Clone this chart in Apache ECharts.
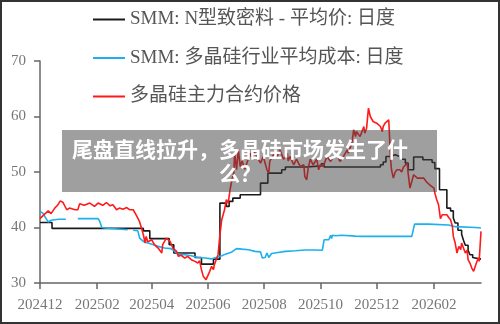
<!DOCTYPE html>
<html><head><meta charset="utf-8">
<script src="https://cdn.jsdelivr.net/npm/echarts@6/dist/echarts.min.js"></script>
<style>html,body{margin:0;padding:0;background:#fff}#c{width:500px;height:324px}</style>
</head><body><div id="c"></div>
<script>
var seriesNames = ['SMM: N型致密料 - 平均价: 日度', 'SMM: 多晶硅行业平均成本: 日度', '多晶硅主力合约价格'];
var tickLabels = ['202412','202502','202504','202506','202508','202510','202512','202602'];
var yTicks = [30, 40, 50, 60, 70];
var xRange = ['2024-12-01', '2026-03-24'];
var bannerTitle = '尾盘直线拉升，多晶硅市场发生了什\n么？';

// SMM: N型致密料 - 平均价 (step changes)
var nTypePrice = [
['2024-12-01',40.9],['2024-12-14',39.85],['2025-03-23',39.4],['2025-03-30',38.0],['2025-04-20',36.9],
['2025-04-25',35.4],['2025-05-18',34.6],['2025-05-25',33.4],['2025-06-07',34.3],['2025-06-14',44.4],
['2025-06-21',43.8],['2025-06-24',44.7],['2025-06-28',45.3],['2025-07-06',45.9],['2025-07-28',48.0],
['2025-08-05',49.8],['2025-08-20',50.4],['2025-08-24',50.9],['2025-09-16',51.1],['2025-10-02',51.5],
['2025-10-05',50.9],['2025-12-05',51.3],['2025-12-08',51.8],['2025-12-11',52.8],['2025-12-15',53.1],
['2025-12-21',52.8],['2025-12-26',52.3],['2026-01-01',51.6],['2026-01-04',50.4],['2026-01-10',52.7],
['2026-01-20',52.2],['2026-01-30',51.7],['2026-02-02',50.6],['2026-02-07',46.8],['2026-02-15',43.5],
['2026-02-19',43.0],['2026-02-22',41.7],['2026-02-24',40.8],['2026-02-27',39.5],['2026-03-03',38.8],
['2026-03-05',37.7],['2026-03-07',36.8],['2026-03-10',35.9],['2026-03-12',35.1],['2026-03-15',34.6],
['2026-03-17',34.3],['2026-03-24',34.3]
];

// SMM: 多晶硅行业平均成本 (null = missing)
var avgCost = [
['2024-12-01',42.9],['2024-12-04',42.6],['2024-12-08',41.5],['2024-12-10',41.0],['2024-12-13',41.3],
['2024-12-21',41.5],['2024-12-29',41.5],['2025-01-03',null],['2025-01-11',41.6],['2025-02-02',41.6],
['2025-02-04',41.0],['2025-02-06',40.0],['2025-02-09',39.9],['2025-03-06',39.6],['2025-03-08',null],
['2025-03-12',39.5],['2025-03-17',39.4],['2025-03-19',38.1],['2025-03-23',37.5],['2025-03-28',37.2],
['2025-04-03',36.9],['2025-04-08',36.6],['2025-04-15',36.3],['2025-04-22',36.2],['2025-04-26',35.7],
['2025-04-30',35.2],['2025-05-07',35.1],['2025-05-14',34.9],['2025-05-21',34.6],['2025-05-29',34.5],
['2025-06-05',34.35],['2025-06-10',34.6],['2025-06-16',34.9],['2025-06-20',35.2],['2025-06-27',35.6],
['2025-07-02',36.2],['2025-07-08',36.1],['2025-07-15',36.0],['2025-07-22',35.7],['2025-07-28',35.6],
['2025-07-30',34.5],['2025-07-31',34.5],['2025-08-02',34.6],['2025-08-04',35.4],['2025-08-06',34.6],
['2025-08-07',34.3],['2025-08-09',35.3],['2025-08-16',35.5],['2025-08-24',35.7],['2025-09-04',35.8],
['2025-09-14',35.95],['2025-09-25',35.95],['2025-10-03',35.9],['2025-10-05',37.8],['2025-10-10',37.8],
['2025-10-12',38.6],['2025-10-13',38.0],['2025-10-14',38.6],['2025-10-17',38.5],['2025-10-24',38.6],
['2025-11-08',38.45],['2025-11-15',38.4],['2026-01-08',38.4],['2026-01-11',40.6],['2026-01-26',40.6],
['2026-02-17',40.45],['2026-02-24',40.15],['2026-03-18',40.0],['2026-03-24',39.9]
];

// 多晶硅主力合约价格
var futuresPrice = [
['2024-12-01',41.6],['2024-12-06',42.4],['2024-12-10',43.0],['2024-12-13',42.5],['2024-12-17',43.5],
['2024-12-20',44.0],['2024-12-23',44.8],['2024-12-26',44.5],['2024-12-30',43.2],['2025-01-02',43.5],
['2025-01-08',43.2],['2025-01-11',43.2],['2025-01-13',44.3],['2025-01-18',44.0],['2025-01-24',44.4],
['2025-01-29',43.8],['2025-02-02',44.4],['2025-02-07',44.0],['2025-02-11',44.5],['2025-02-15',43.9],
['2025-02-18',44.1],['2025-02-22',43.2],['2025-02-25',43.5],['2025-03-01',43.3],['2025-03-05',43.6],
['2025-03-08',43.2],['2025-03-12',43.2],['2025-03-15',42.3],['2025-03-17',41.7],['2025-03-19',41.0],
['2025-03-21',39.9],['2025-03-23',38.7],['2025-03-25',37.2],['2025-03-26',38.4],['2025-03-28',37.4],
['2025-04-01',37.8],['2025-04-04',36.9],['2025-04-08',36.3],['2025-04-12',35.4],['2025-04-13',36.9],
['2025-04-17',38.1],['2025-04-19',38.4],['2025-04-21',37.5],['2025-04-24',36.3],['2025-04-28',35.7],
['2025-04-30',34.8],['2025-05-03',35.0],['2025-05-07',34.5],['2025-05-10',34.8],['2025-05-14',34.2],
['2025-05-18',33.9],['2025-05-21',33.6],['2025-05-23',34.0],['2025-05-25',32.4],['2025-05-27',31.2],
['2025-05-30',30.6],['2025-06-01',30.9],['2025-06-03',32.1],['2025-06-05',33.0],['2025-06-07',32.4],
['2025-06-08',33.3],['2025-06-10',34.2],['2025-06-12',35.1],['2025-06-14',38.7],['2025-06-16',41.4],
['2025-06-19',43.2],['2025-06-21',45.0],['2025-06-23',44.4],['2025-06-25',46.8],['2025-06-27',48.6],
['2025-06-29',49.8],['2025-06-30',53.4],['2025-07-02',50.4],['2025-07-04',54.0],['2025-07-06',51.0],
['2025-07-08',52.0],['2025-07-11',50.5],['2025-07-13',51.5],['2025-07-17',53.4],['2025-07-19',52.3],
['2025-07-20',54.0],['2025-07-24',52.8],['2025-07-28',51.6],['2025-07-31',52.8],['2025-08-04',50.4],
['2025-08-06',49.8],['2025-08-07',51.9],['2025-08-11',53.1],['2025-08-13',53.4],['2025-08-15',52.8],
['2025-08-18',54.0],['2025-08-22',52.3],['2025-08-26',53.4],['2025-08-27',52.0],['2025-08-29',52.8],
['2025-09-02',51.3],['2025-09-05',52.3],['2025-09-09',51.0],['2025-09-13',51.3],['2025-09-14',49.2],
['2025-09-16',48.6],['2025-09-18',51.0],['2025-09-20',52.3],['2025-09-23',51.3],['2025-09-25',51.0],
['2025-09-27',52.3],['2025-09-29',50.4],['2025-10-01',51.3],['2025-10-04',51.0],['2025-10-08',52.8],
['2025-10-12',51.9],['2025-10-15',52.8],['2025-10-19',53.1],['2025-10-22',51.9],['2025-10-24',52.3],
['2025-10-26',52.8],['2025-10-30',54.0],['2025-10-31',53.4],['2025-11-04',55.2],['2025-11-06',57.6],
['2025-11-08',56.4],['2025-11-09',57.3],['2025-11-11',56.8],['2025-11-13',56.4],['2025-11-17',58.2],
['2025-11-18',57.0],['2025-11-20',57.9],['2025-11-22',61.5],['2025-11-24',60.0],['2025-11-26',60.3],
['2025-11-27',59.1],['2025-11-29',59.3],['2025-12-01',58.8],['2025-12-05',58.2],['2025-12-07',57.3],
['2025-12-08',58.2],['2025-12-10',58.8],['2025-12-12',59.1],['2025-12-14',59.4],['2025-12-16',52.2],
['2025-12-17',50.4],['2025-12-19',48.9],['2025-12-21',50.0],['2025-12-23',50.4],['2025-12-26',50.4],
['2025-12-28',50.0],['2025-12-30',50.9],['2026-01-03',51.6],['2026-01-04',49.8],['2026-01-06',47.1],
['2026-01-08',47.1],['2026-01-10',49.5],['2026-01-14',48.9],['2026-01-17',48.9],['2026-01-21',48.9],
['2026-01-24',48.2],['2026-01-28',47.6],['2026-02-01',47.1],['2026-02-02',46.2],['2026-02-04',45.0],
['2026-02-06',44.1],['2026-02-08',41.6],['2026-02-10',42.3],['2026-02-11',42.6],['2026-02-15',42.3],
['2026-02-17',41.8],['2026-02-19',41.4],['2026-02-21',40.2],['2026-02-22',38.4],['2026-02-24',37.2],
['2026-02-26',35.4],['2026-02-28',36.6],['2026-03-02',36.0],['2026-03-03',37.2],['2026-03-05',36.3],
['2026-03-07',35.4],['2026-03-09',35.9],['2026-03-10',34.2],['2026-03-12',33.6],['2026-03-14',32.7],
['2026-03-16',32.1],['2026-03-18',31.8],['2026-03-19',33.6],['2026-03-21',34.5],['2026-03-22',33.9],
['2026-03-23',34.2],['2026-03-24',39.3]
];

function toTime(s) {
  var p = s.split('-');
  return Date.UTC(+p[0], +p[1] - 1, +p[2]);
}
function toSeries(arr) {
  return arr.map(function (d) { return [toTime(d[0]), d[1] === null ? '-' : d[1]]; });
}
var tickTimes = tickLabels.map(function (s) { return Date.UTC(+s.slice(0, 4), +s.slice(4) - 1, 1); });
var latin = "'Liberation Serif', 'Noto Sans CJK SC', serif";

var chart = echarts.init(document.getElementById('c'), null, {renderer: 'canvas'});
chart.setOption({
  animation: false,
  backgroundColor: '#fff',
  grid: {left: 40, right: 19, top: 61, bottom: 41, containLabel: false},
  legend: {
    orient: 'vertical', left: 93, top: 9, padding: 0,
    itemWidth: 32, itemHeight: 2, itemGap: 17.5, icon: 'rect',
    data: seriesNames,
    textStyle: {color: '#555', fontSize: 19, lineHeight: 21, fontFamily: latin}
  },
  xAxis: {
    type: 'value',
    min: toTime(xRange[0]), max: toTime(xRange[1]),
    axisLine: {lineStyle: {color: '#666', width: 1.5}},
    axisTick: {show: true, length: 6, lineStyle: {color: '#666', width: 1.5}, customValues: tickTimes},
    axisLabel: {
      customValues: tickTimes, margin: 15, color: '#777', fontSize: 15, fontFamily: latin,
      formatter: function (v) { var i = tickTimes.indexOf(v); return i >= 0 ? tickLabels[i] : ''; }
    },
    splitLine: {show: false}
  },
  yAxis: {
    type: 'value', min: yTicks[0], max: yTicks[yTicks.length - 1], interval: 10,
    axisLine: {show: true, lineStyle: {color: '#666', width: 1.5}},
    axisTick: {show: true, length: 6, lineStyle: {color: '#666', width: 1.5}},
    axisLabel: {margin: 14, color: '#777', fontSize: 15, fontFamily: latin},
    splitLine: {show: false}
  },
  series: [
    {name: seriesNames[0], type: 'line', step: 'end', data: toSeries(nTypePrice), symbol: 'none',
     lineStyle: {color: '#1a1a1a', width: 1.6}, itemStyle: {color: '#1a1a1a'}},
    {name: seriesNames[1], type: 'line', data: toSeries(avgCost), symbol: 'none', connectNulls: false,
     lineStyle: {color: '#1cb0ee', width: 1.6}, itemStyle: {color: '#1cb0ee'}},
    {name: seriesNames[2], type: 'line', data: toSeries(futuresPrice), symbol: 'none',
     lineStyle: {color: '#ff1a1a', width: 1.6}, itemStyle: {color: '#ff1a1a'}}
  ],
  graphic: [
    {type: 'rect', z: 100, shape: {x: 1, y: 1, width: 498, height: 322},
     style: {fill: 'none', stroke: '#333', lineWidth: 2}},
    {type: 'rect', z: 100, shape: {x: 62, y: 130, width: 375, height: 62},
     style: {fill: 'rgba(64,64,64,0.5)'}},
    {type: 'text', z: 101, x: 240, y: 137,
     style: {text: bannerTitle, fill: '#fff', fontSize: 21, fontWeight: 'bold', lineHeight: 24,
             align: 'center', verticalAlign: 'top', fontFamily: "'Noto Sans CJK SC', sans-serif"}}
  ]
});
</script></body></html>
